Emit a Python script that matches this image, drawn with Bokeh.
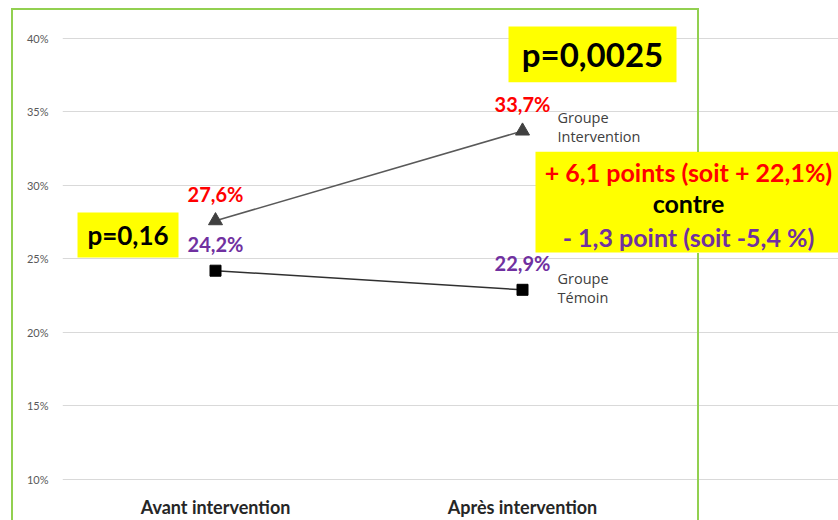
from bokeh.plotting import figure
from bokeh.models import Range1d, BoxAnnotation, Label, FixedTicker, PrintfTickFormatter, InlineStyleSheet
from bokeh.core.properties import value
from bokeh.embed import file_html
from bokeh.resources import INLINE

categories = ["Avant intervention", "Après intervention"]
intervention = [27.6, 33.7]
temoin = [24.2, 22.9]
yticks = [10, 15, 20, 25, 30, 35, 40]
series_names = ["Groupe\nIntervention", "Groupe\nTémoin"]

xpos = list(range(len(categories)))


def fmt(v):
    return f"{v:.1f}".replace(".", ",") + "%"


int_labels = [fmt(v) for v in intervention]
tem_labels = [fmt(v) for v in temoin]

FONT = value("Lato")

p = figure(width=838, height=520,
           x_range=Range1d(-0.4984, 2.0293),
           y_range=Range1d(9.797, 42.573),
           output_backend="svg", toolbar_location=None,
           min_border_left=62, min_border_right=0,
           min_border_top=0, min_border_bottom=36)
p.outline_line_color = None
p.background_fill_color = "white"
p.border_fill_color = "white"

p.xgrid.visible = False
p.ygrid.grid_line_color = "#d9d9d9"
p.ygrid.grid_line_width = 1.2
p.ygrid.bounds = (-0.4984, 1.5049)
p.ygrid.ticker = FixedTicker(ticks=yticks)

p.yaxis.ticker = FixedTicker(ticks=yticks)
p.yaxis.formatter = PrintfTickFormatter(format="%d%%")
p.xaxis.ticker = FixedTicker(ticks=xpos)
p.xaxis.major_label_overrides = {i: c for i, c in zip(xpos, categories)}
for ax in (p.xaxis[0], p.yaxis[0]):
    ax.axis_line_color = None
    ax.major_tick_line_color = None
    ax.minor_tick_line_color = None
p.yaxis.major_label_standoff = 8
p.yaxis.major_label_text_font = "Lato"
p.yaxis.major_label_text_font_size = "11px"
p.yaxis.major_label_text_color = "#595959"
p.xaxis.major_label_standoff = 7
p.xaxis.major_label_text_font = "Lato"
p.xaxis.major_label_text_font_style = "bold"
p.xaxis.major_label_text_font_size = "18px"
p.xaxis.major_label_text_color = "#262626"

# green slide frame (outside the plot frame -> CSS)
p.stylesheets = [InlineStyleSheet(css="""
:host { position: relative; }
:host::after {
  content: ""; position: absolute; left: 11px; top: 8px;
  width: 686px; height: 600px;
  border-left: 2px solid #92D050; border-top: 2px solid #92D050;
  pointer-events: none; z-index: 10;
}
:host::before {
  content: ""; position: absolute; left: 697px; top: 8px;
  width: 2px; height: 600px; pointer-events: none; z-index: 10;
  background: linear-gradient(to bottom, #92D050 0px, #92D050 144px,
              transparent 144px, transparent 245px, #92D050 245px);
}
""")]

# series
p.line(x=xpos, y=intervention, line_color="#595959", line_width=1.5)
p.scatter(x=xpos, y=intervention, marker="triangle", size=14,
          fill_color="#404040", line_color="#404040")
p.line(x=xpos, y=temoin, line_color="#303030", line_width=1.5)
p.scatter(x=xpos, y=temoin, marker="square", size=11,
          fill_color="black", line_color="black")

p.text(x=xpos, y=intervention, text=int_labels, text_color="#FF0000",
       text_font=FONT, text_font_style="bold", text_font_size="20px",
       text_align="center", text_baseline="middle", y_offset=-27)
p.text(x=xpos, y=temoin, text=tem_labels, text_color="#7030A0",
       text_font=FONT, text_font_style="bold", text_font_size="20px",
       text_align="center", text_baseline="middle", y_offset=-27)

p.text(x=[xpos[-1]], y=[intervention[-1]], text=[series_names[0]],
       text_color="#404040", text_font=value("Open Sans"), text_font_size="14.5px",
       text_align="left", text_baseline="middle", x_offset=35, y_offset=-4,
       text_line_height=1.02)
p.text(x=[xpos[-1]], y=[temoin[-1]], text=[series_names[1]],
       text_color="#404040", text_font=value("Open Sans"), text_font_size="14.5px",
       text_align="left", text_baseline="middle", x_offset=35, y_offset=-2,
       text_line_height=1.02)

# yellow boxes
for l, r, t, b in [(0.9544, 1.5016, 40.813, 37.02),
                   (-0.4495, -0.1205, 28.149, 25.102),
                   (1.0423, 2.1, 32.28, 25.44)]:
    p.add_layout(BoxAnnotation(left=l, right=r, top=t, bottom=b,
                               fill_color="#FFFF00", fill_alpha=1,
                               line_color=None))

p.add_layout(Label(x=1.228, y=38.917, text="p=0,0025", text_align="center",
                   text_baseline="middle", text_font="Lato", text_font_style="bold",
                   text_font_size="33px", text_color="black"))
p.add_layout(Label(x=-0.285, y=26.626, text="p=0,16", text_align="center",
                   text_baseline="middle", text_font="Lato", text_font_style="bold",
                   text_font_size="26px", text_color="black"))
for y, txt, col in [(30.926, "+ 6,1 points (soit + 22,1%)", "#FF0000"),
                    (28.827, "contre", "black"),
                    (26.524, "- 1,3 point (soit -5,4 %)", "#7030A0")]:
    p.add_layout(Label(x=1.5407, y=y, text=txt, text_align="center",
                       text_baseline="middle", text_font="Lato", text_font_style="bold",
                       text_font_size="25px", text_color=col))

open("out.html", "w").write(file_html(p, INLINE))
